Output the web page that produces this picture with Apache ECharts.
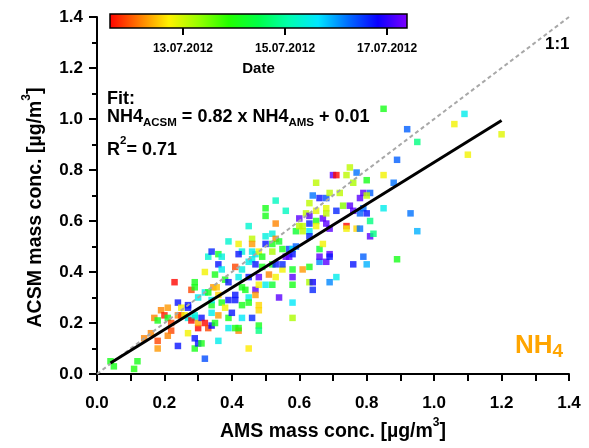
<!DOCTYPE html>
<html><head><meta charset="utf-8">
<script src="https://cdn.jsdelivr.net/npm/echarts@6/dist/echarts.min.js"></script>
<style>html,body{margin:0;padding:0;background:#fff}#c{width:589px;height:448px}</style>
</head><body><div id="c"></div>
<script>
// AMS NH4 (x), ACSM NH4 (y), day of July 2012 (colour)
const amsX = [0.04,0.05,0.12,0.11,0.14,0.16,0.18,0.18,0.17,0.18,0.19,0.21,0.20,0.21,0.22,0.22,0.21,0.23,0.24,0.24,
0.24,0.25,0.25,0.26,0.27,0.27,0.27,0.28,0.29,0.29,0.30,0.29,0.28,0.29,0.27,0.29,0.29,0.30,0.31,0.30,
0.30,0.31,0.32,0.33,0.32,0.32,0.33,0.34,0.32,0.34,0.34,0.34,0.34,0.345,0.35,0.355,0.35,0.36,0.36,0.37,
0.37,0.36,0.37,0.36,0.36,0.38,0.38,0.39,0.39,0.39,0.39,0.39,0.40,0.41,0.41,0.42,0.42,0.41,0.41,0.42,
0.42,0.43,0.43,0.43,0.43,0.43,0.45,0.45,0.45,0.44,0.45,0.45,0.45,0.46,0.46,0.46,0.46,0.46,0.47,0.47,
0.47,0.48,0.48,0.48,0.48,0.48,0.50,0.50,0.50,0.50,0.50,0.48,0.48,0.49,0.49,0.51,0.52,0.52,0.52,0.52,
0.53,0.53,0.53,0.53,0.53,0.54,0.54,0.55,0.55,0.55,0.56,0.56,0.57,0.57,0.58,0.58,0.58,0.58,0.58,0.58,
0.59,0.58,0.60,0.60,0.61,0.61,0.61,0.62,0.63,0.63,0.63,0.63,0.63,0.63,0.63,0.64,0.64,0.65,0.64,0.65,
0.65,0.65,0.66,0.67,0.66,0.66,0.67,0.68,0.68,0.68,0.68,0.69,0.68,0.69,0.69,0.70,0.71,0.71,0.72,0.71,
0.69,0.69,
0.85,0.92,0.95,0.89,1.06,1.09,1.10,1.20,0.75,0.74,0.77,0.76,0.80,0.85,0.88,0.79,0.81,0.78,0.80,0.73,
0.75,0.76,0.79,0.78,0.80,0.85,0.81,0.93,0.74,0.74,0.77,0.78,0.81,0.82,0.95,0.89,0.79,0.80,0.76,
0.33,0.42,0.59,0.52,0.47,0.66];
const acsmY = [0.05,0.03,0.05,0.02,0.14,0.16,0.10,0.13,0.22,0.21,0.25,0.26,0.23,0.22,0.20,0.17,0.15,0.36,0.28,0.11,
0.23,0.23,0.26,0.23,0.27,0.26,0.22,0.33,0.36,0.34,0.30,0.22,0.21,0.23,0.16,0.10,0.14,0.12,0.12,0.18,
0.20,0.22,0.20,0.18,0.32,0.40,0.46,0.48,0.06,0.19,0.24,0.27,0.29,0.34,0.39,0.34,0.20,0.43,0.47,0.46,
0.41,0.31,0.28,0.23,0.13,0.37,0.26,0.29,0.36,0.52,0.22,0.18,0.24,0.18,0.42,0.38,0.51,0.31,0.29,0.17,
0.18,0.41,0.48,0.34,0.27,0.22,0.58,0.38,0.10,0.33,0.30,0.28,0.44,0.53,0.51,0.48,0.22,0.45,0.33,0.47,
0.31,0.35,0.19,0.17,0.38,0.48,0.54,0.51,0.65,0.62,0.35,0.27,0.25,0.42,0.46,0.39,0.55,0.48,0.35,0.43,
0.59,0.53,0.68,0.43,0.38,0.30,0.52,0.49,0.41,0.43,0.46,0.64,0.46,0.49,0.22,0.35,0.49,0.38,0.41,0.28,
0.56,0.47,0.61,0.58,0.56,0.58,0.41,0.63,0.42,0.36,0.56,0.62,0.67,0.54,0.59,0.36,0.33,0.75,0.70,0.64,
0.60,0.58,0.49,0.51,0.44,0.46,0.61,0.69,0.65,0.63,0.59,0.47,0.44,0.36,0.71,0.78,0.78,0.38,0.71,0.64,
0.57,0.46,
1.04,0.96,0.91,0.84,0.98,1.02,0.86,0.94,0.81,0.78,0.79,0.75,0.76,0.78,0.75,0.71,0.71,0.69,0.70,0.66,
0.66,0.64,0.65,0.63,0.63,0.65,0.60,0.63,0.58,0.57,0.57,0.57,0.54,0.55,0.56,0.45,0.46,0.43,0.43,
0.32,0.47,0.50,0.51,0.43,0.69];
const dateDay = [14.1,14.1,14.1,14.0,12.2,12.2,12.3,11.9,12.2,14.1,12.2,12.3,11.7,14.2,11.9,11.9,12.2,11.6,16.7,16.7,
12.2,11.9,12.8,12.8,16.7,16.7,15.5,11.9,14.1,14.1,15.5,15.5,11.6,15.4,12.8,14.1,16.7,16.7,14.1,11.6,
12.4,16.7,11.6,11.9,15.5,12.8,15.3,16.6,16.4,16.8,15.5,14.2,15.5,12.3,14.1,12.5,14.1,16.7,14.2,15.4,
15.5,12.6,14.1,12.3,15.5,14.1,12.8,16.7,16.7,15.3,14.1,15.5,16.7,14.1,11.9,15.5,12.8,16.7,16.7,12.2,
14.1,15.4,15.4,14.1,14.1,15.6,15.3,16.7,12.7,14.1,15.5,14.1,15.5,13.1,12.3,15.5,16.6,15.5,17.2,15.5,
12.3,12.8,14.1,14.8,17.2,12.8,15.4,16.7,14.1,14.1,15.5,12.6,12.6,14.1,14.1,12.2,15.4,13.2,14.3,14.1,
12.2,12.2,15.2,16.7,12.8,17.2,14.2,14.1,12.8,16.6,17.2,15.2,17.2,16.5,13.2,14.1,15.6,17.2,14.2,15.6,
14.3,16.7,17.2,13.1,13.1,13.1,12.3,13.1,14.1,13.2,15.6,17.2,13.1,16.6,16.6,16.8,16.6,13.1,16.2,12.9,
14.1,12.8,14.3,12.8,16.1,17.2,17.2,16.4,12.9,13.1,17.2,17.2,17.2,16.1,13.1,17.2,11.6,15.5,13.1,16.6,
17.2,16.7,
14.1,16.3,14.8,16.3,12.8,15.5,12.8,12.9,13.1,13.1,16.2,13.2,14.1,12.8,16.2,17.2,16.3,17.2,13.1,13.4,
17.2,17.2,16.2,16.3,16.7,15.5,14.8,16.2,11.6,12.8,12.6,16.2,17.2,14.8,15.9,14.1,16.3,15.9,16.7,
14.1,16.7,16.3,14.1,16.7,16.7];

const dateRange = [11.57, 17.39];
const dateTicks = [13, 15, 17];
const rainbow = ['#ff0000','#ff7a00','#fff200','#96ff00','#23ff00','#00ff47','#00ffad','#00e6ff','#006dff','#0b00ff','#8000ff'];
const fitSlope = 0.82, fitIntercept = 0.01, fitXRange = [0.04, 1.2];
const oneToOne = [[0, 0], [1.4, 1.4]];

const FF = '"Liberation Sans", Arial, sans-serif';
const chart = echarts.init(document.getElementById('c'), null, {renderer: 'canvas'});
const pts = amsX.map((x, i) => [x, acsmY[i], dateDay[i]]);
const fitLine = fitXRange.map(x => [x, fitSlope * x + fitIntercept]);
const grad = new echarts.graphic.LinearGradient(0, 0, 1, 0,
  rainbow.map((c, i) => ({offset: i / (rainbow.length - 1), color: c})));
const bold = (s, extra) => Object.assign({fontFamily: FF, fontWeight: 'bold', fontSize: s, color: '#000'}, extra || {});
const gbold = (s, extra) => Object.assign({fontFamily: FF, fontWeight: 'bold', fontSize: s, fill: '#000'}, extra || {});

chart.setOption({
  animation: false,
  backgroundColor: '#fff',
  grid: [
    {left: 97, top: 17, width: 472, height: 357},
    {left: 110, top: 14, width: 297, height: 14, show: true, backgroundColor: grad, borderColor: '#000', borderWidth: 1.5, z: 5}
  ],
  xAxis: [
    {gridIndex: 0, type: 'value', min: 0, max: 1.4, interval: 0.2,
     axisLine: {onZero: false, lineStyle: {color: '#000', width: 2}},
     axisTick: {length: 7, lineStyle: {color: '#000', width: 2}},
     minorTick: {show: true, splitNumber: 2, length: 7, lineStyle: {color: '#000', width: 2}},
     splitLine: {show: false},
     axisLabel: Object.assign(bold(17), {margin: 21, formatter: v => v.toFixed(1)}),
     name: '{t|AMS mass conc. [µg/m}{s|3}{t|]}', nameLocation: 'middle', nameGap: 43,
     nameTextStyle: {rich: {t: bold(19.5, {lineHeight: 30}), s: bold(12, {lineHeight: 6, verticalAlign: 'top'})}}
    },
    {gridIndex: 1, type: 'value', min: dateRange[0], max: dateRange[1],
     axisLine: {show: false},
     axisTick: {show: true, customValues: dateTicks, length: 7, lineStyle: {color: '#000', width: 2}},
     splitLine: {show: false},
     axisLabel: Object.assign(bold(12), {customValues: dateTicks, margin: 15,
       formatter: v => String(Math.round(v)).padStart(2, '0') + '.07.2012'}),
     name: 'Date', nameLocation: 'middle', nameGap: 33, nameTextStyle: bold(15)
    }
  ],
  yAxis: [
    {gridIndex: 0, type: 'value', min: 0, max: 1.4, interval: 0.2,
     axisLine: {onZero: false, lineStyle: {color: '#000', width: 2}},
     axisTick: {length: 8, lineStyle: {color: '#000', width: 2}},
     minorTick: {show: true, splitNumber: 2, length: 5, lineStyle: {color: '#000', width: 2}},
     splitLine: {show: false},
     axisLabel: Object.assign(bold(17), {margin: 14, formatter: v => v.toFixed(1)}),
     name: '{t|ACSM mass conc. [µg/m}{s|3}{t|]}', nameLocation: 'middle', nameGap: 46,
     nameTextStyle: {padding: [0, 24, 0, 0],
       rich: {t: bold(19.5, {lineHeight: 30}), s: bold(12, {lineHeight: 6, verticalAlign: 'top'})}}
    },
    {gridIndex: 1, type: 'value', show: false, min: 0, max: 1}
  ],
  visualMap: {type: 'continuous', show: false, dimension: 2, seriesIndex: 0,
    min: dateRange[0], max: dateRange[1], inRange: {color: rainbow}},
  series: [
    {type: 'scatter', xAxisIndex: 0, yAxisIndex: 0, symbol: 'rect', symbolSize: 6.5, data: pts, z: 2},
    {type: 'line', xAxisIndex: 0, yAxisIndex: 0, data: oneToOne, showSymbol: false, z: 3,
     lineStyle: {color: '#a8a8a8', width: 2, type: [4, 3]}},
    {type: 'line', xAxisIndex: 0, yAxisIndex: 0, data: fitLine, showSymbol: false, z: 4,
     lineStyle: {color: '#000', width: 3}}
  ],
  graphic: [
    {type: 'text', left: 545, top: 36, style: Object.assign({text: '1:1'}, gbold(17))},
    {type: 'text', left: 107, top: 90, style: Object.assign({text: 'Fit:'}, gbold(18))},
    {type: 'text', left: 107, top: 108, style: {
      text: '{b|NH4}{s|ACSM}{b| = 0.82 x NH4}{s|AMS}{b| + 0.01}',
      rich: {b: gbold(18, {lineHeight: 24}), s: gbold(11.5, {lineHeight: 14, verticalAlign: 'bottom'})}}},
    {type: 'text', left: 107, top: 135, style: {
      text: '{b|R}{p|2}{b|= 0.71}',
      rich: {b: gbold(18, {lineHeight: 30}), p: gbold(11.5, {lineHeight: 8, verticalAlign: 'top'})}}},
    {type: 'text', left: 515, top: 333, style: {
      text: '{b|NH}{s|4}',
      rich: {b: gbold(26, {lineHeight: 30, fill: '#ffa500'}), s: gbold(19, {lineHeight: 9, verticalAlign: 'bottom', fill: '#ffa500'})}}}
  ]
});
</script></body></html>
